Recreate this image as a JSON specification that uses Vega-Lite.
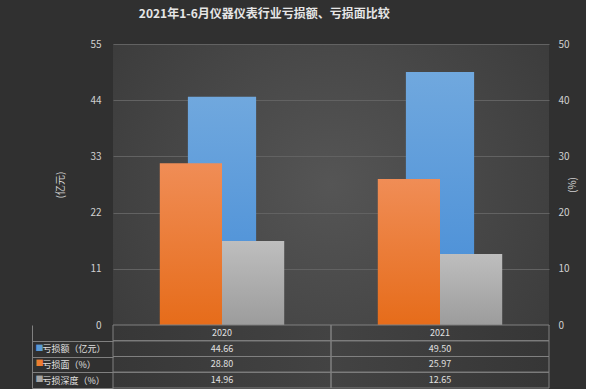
{
  "$schema": "https://vega.github.io/schema/vega-lite/v6.json",
  "background": "#303030",
  "padding": {"left": 31, "top": 8, "right": 8, "bottom": 0},
  "autosize": {"type": "pad"},
  "bounds": "flush",
  "spacing": 0,
  "title": {"text": "2021年1-6月仪器仪表行业亏损额、亏损面比较", "fontSize": 12, "fontWeight": "bold", "color": "#e6e6e6", "font": "Noto Sans CJK SC", "anchor": "middle", "dx": -40, "offset": 18},
  "datasets": {
    "main": [
      {"year": "2020", "series": "亏损额（亿元）", "value": 44.66},
      {"year": "2021", "series": "亏损额（亿元）", "value": 49.50},
      {"year": "2020", "series": "亏损面（%）", "value": 28.80},
      {"year": "2021", "series": "亏损面（%）", "value": 25.97},
      {"year": "2020", "series": "亏损深度（%）", "value": 14.96},
      {"year": "2021", "series": "亏损深度（%）", "value": 12.65}
    ],
    "hdr": [{"year": "2020", "series": "年份"}, {"year": "2021", "series": "年份"}]
  },
  "config": {"font": "Noto Sans CJK SC", "view": {"stroke": null}},
  "vconcat": [
    {
      "width": 436,
      "height": 281,
      "view": {"fill": {"gradient": "radial", "x1": 0.5, "y1": 0.5, "r1": 0, "x2": 0.5, "y2": 0.5, "r2": 0.65, "stops": [{"offset": 0, "color": "#555555"}, {"offset": 1, "color": "#3a3a3a"}]}},
      "data": {"name": "main"},
      "encoding": {"x": {"field": "year", "type": "nominal", "axis": null, "scale": {"paddingInner": 0, "paddingOuter": 0}}},
      "layer": [
        {
          "transform": [{"filter": "datum.series === '亏损额（亿元）'"}],
          "mark": {"type": "bar", "width": {"band": 0.313}, "color": {"gradient": "linear", "x1": 0, "y1": 0, "x2": 0, "y2": 1, "stops": [{"offset": 0, "color": "#70a8de"}, {"offset": 1, "color": "#448bd6"}]}},
          "encoding": {
            "y": {"field": "value", "type": "quantitative", "scale": {"domain": [0, 55], "nice": false},
              "axis": {"orient": "left", "values": [0, 11, 22, 33, 44, 55], "title": "(亿元)", "grid": true, "gridColor": "#626262", "domain": false, "ticks": false, "labelPadding": 12, "labelColor": "#d0d0d0", "labelFontSize": 10, "titleColor": "#d0d0d0", "titleFontSize": 10, "titleFontWeight": "normal", "titlePadding": 24}}
          }
        },
        {
          "encoding": {
            "xOffset": {"field": "series", "type": "nominal", "scale": {"domain": ["亏损面（%）", "亏损深度（%）"], "paddingInner": 0, "paddingOuter": 0.752}},
            "y": {"field": "value", "type": "quantitative", "scale": {"domain": [0, 50], "nice": false},
              "axis": {"orient": "right", "values": [0, 10, 20, 30, 40, 50], "title": "(%)", "titleAngle": -90, "grid": false, "domain": false, "ticks": false, "labelPadding": 9, "labelColor": "#d0d0d0", "labelFontSize": 10, "titleColor": "#d0d0d0", "titleFontSize": 10, "titleFontWeight": "normal", "titlePadding": 8}}
          },
          "layer": [
            {
              "transform": [{"filter": "datum.series === '亏损面（%）'"}],
              "mark": {"type": "bar", "color": {"gradient": "linear", "x1": 0, "y1": 0, "x2": 0, "y2": 1, "stops": [{"offset": 0, "color": "#f08d56"}, {"offset": 1, "color": "#e66c1a"}]}}
            },
            {
              "transform": [{"filter": "datum.series === '亏损深度（%）'"}],
              "mark": {"type": "bar", "color": {"gradient": "linear", "x1": 0, "y1": 0, "x2": 0, "y2": 1, "stops": [{"offset": 0, "color": "#bebebe"}, {"offset": 1, "color": "#9c9c9c"}]}}
            }
          ]
        }
      ],
      "resolve": {"scale": {"y": "independent"}}
    },
    {
      "width": 436,
      "height": 63,
      "view": {"fill": {"gradient": "linear", "x1": 0, "y1": 0, "x2": 1, "y2": 0, "stops": [{"offset": 0, "color": "#373737"}, {"offset": 0.5, "color": "#434343"}, {"offset": 1, "color": "#363636"}]}},
      "encoding": {
        "x": {"field": "year", "type": "nominal", "axis": null, "scale": {"paddingInner": 0, "paddingOuter": 0}}
      },
      "layer": [
        {
          "data": {"name": "hdr"},
          "mark": {"type": "rect", "filled": false, "color": "#808080", "strokeWidth": 1},
          "encoding": {"y": {"field": "series", "type": "nominal", "scale": {"domain": ["年份", "亏损额（亿元）", "亏损面（%）", "亏损深度（%）"], "paddingInner": 0, "paddingOuter": 0}, "axis": null}}
        },
        {
          "data": {"name": "main"},
          "mark": {"type": "rect", "filled": false, "color": "#808080", "strokeWidth": 1},
          "encoding": {"y": {"field": "series", "type": "nominal", "scale": {"domain": ["年份", "亏损额（亿元）", "亏损面（%）", "亏损深度（%）"], "paddingInner": 0, "paddingOuter": 0},
            "axis": {"orient": "left", "values": ["亏损额（亿元）", "亏损面（%）", "亏损深度（%）"], "title": null, "domain": false, "ticks": true, "tickBand": "extent", "tickSize": 81, "tickColor": "#808080", "labelAlign": "left", "labelPadding": -10, "labelColor": "#e0e0e0", "labelFontSize": 9, "grid": false}}}
        },
        {
          "data": {"name": "hdr"},
          "mark": {"type": "text", "color": "#e0e0e0", "fontSize": 9},
          "encoding": {"y": {"field": "series", "type": "nominal", "scale": {"domain": ["年份", "亏损额（亿元）", "亏损面（%）", "亏损深度（%）"], "paddingInner": 0, "paddingOuter": 0}, "axis": null}, "text": {"field": "year"}}
        },
        {
          "data": {"name": "main"},
          "mark": {"type": "text", "color": "#e0e0e0", "fontSize": 9},
          "encoding": {
            "y": {"field": "series", "type": "nominal", "scale": {"domain": ["年份", "亏损额（亿元）", "亏损面（%）", "亏损深度（%）"], "paddingInner": 0, "paddingOuter": 0},
              "axis": {"orient": "left", "values": ["亏损额（亿元）", "亏损面（%）", "亏损深度（%）"], "title": null, "offset": 81, "domain": true, "domainColor": "#808080", "ticks": false, "labelExpr": "'■'", "labelAlign": "left", "labelPadding": -3, "labelFontSize": 8, "grid": false,
                "labelColor": {"condition": [{"test": "datum.value === '亏损额（亿元）'", "value": "#5b9bd5"}, {"test": "datum.value === '亏损面（%）'", "value": "#ed7d31"}], "value": "#a5a5a5"}}},
            "text": {"field": "value", "type": "quantitative", "format": ".2f"}
          }
        }
      ],
      "resolve": {"axis": {"y": "independent"}}
    }
  ]
}
